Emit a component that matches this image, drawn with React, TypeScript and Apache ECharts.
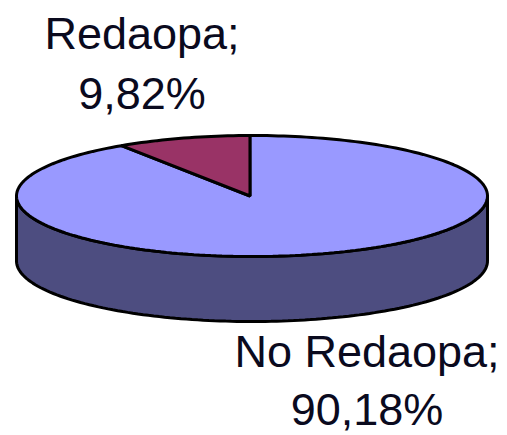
import React, { useEffect, useRef } from "react";
import * as echarts from "echarts";

const sliceNames = ["No Redaopa", "Redaopa"];
const sliceValues = [90.18, 9.82];
const topColors = ["#9999FF", "#993366"];
const sideColors = ["#4D4D80", "#4D1A33"];
const labelCenters = [
  [367, 351, 409],
  [142, 33, 93],
];

const CX = 252;
const CY = 196;
const RX = 235.5;
const RY = 60.5;
const DEPTH = 65;
const APEX = [250, 196];
const START = -0.5;
const WARP = 2.3;

const rad = (d: number) => (d * Math.PI) / 180;
const warp = (d: number) => d - WARP * Math.sin(rad(2 * d));
const rim = (d: number, dy = 0) => {
  const a = rad(warp(d) + START);
  return [CX + RX * Math.sin(a), CY - RY * Math.cos(a) + dy];
};
const arc = (from: number, to: number, dy = 0) => {
  const out: number[][] = [];
  const n = Math.max(2, Math.ceil(Math.abs(to - from) / 1.5));
  for (let i = 0; i <= n; i++) out.push(rim(from + ((to - from) * i) / n, dy));
  return out;
};
const fmt = (v: number) => v.toFixed(2).replace(".", ",") + "%";

const labelText = (text: string, x: number, y: number) => ({
  type: "text",
  style: {
    text,
    x,
    y,
    fill: "#0a0a1e",
    font: '45px "Liberation Sans", Arial, sans-serif',
    lineHeight: 46,
    textAlign: "center",
    textVerticalAlign: "middle",
  },
});

function renderItem(params: any, api: any) {
  const i = params.dataIndex;
  const total = sliceValues.reduce((a, b) => a + b, 0);
  const before = sliceValues.slice(0, i).reduce((a, b) => a + b, 0);
  const from = (before / total) * 360;
  const to = from + (api.value(0) / total) * 360;
  const stroke = { stroke: "#000", lineWidth: 3, lineJoin: "bevel" };
  const children: any[] = [];
  const sFrom = Math.max(from, 90);
  const sTo = Math.min(to, 270);
  if (sTo > sFrom) {
    children.push({
      type: "polygon",
      shape: { points: [...arc(sFrom, sTo), ...arc(sTo, sFrom, DEPTH)] },
      style: { fill: sideColors[i], ...stroke },
    });
  }
  children.push({
    type: "polygon",
    shape: { points: [APEX, ...arc(from, to)] },
    style: { fill: topColors[i], ...stroke },
  });
  const [lx, ly1, ly2] = labelCenters[i];
  children.push(labelText(sliceNames[i] + ";", lx, ly1));
  children.push(labelText(fmt(api.value(0)), lx, ly2));
  return { type: "group", children };
}

export default function App() {
  const ref = useRef<HTMLDivElement>(null);
  useEffect(() => {
    const chart = echarts.init(ref.current!, null, { renderer: "svg" });
    chart.setOption({
      animation: false,
      backgroundColor: "#fff",
      series: [
        {
          type: "custom",
          coordinateSystem: "none",
          renderItem,
          silent: true,
          data: sliceValues.map((v, i) => ({ name: sliceNames[i], value: [v] })),
        },
      ],
    });
    return () => chart.dispose();
  }, []);
  return (
    <div
      ref={ref}
      style={{ position: "absolute", left: 0, top: 0, width: 507, height: 435 }}
    />
  );
}
